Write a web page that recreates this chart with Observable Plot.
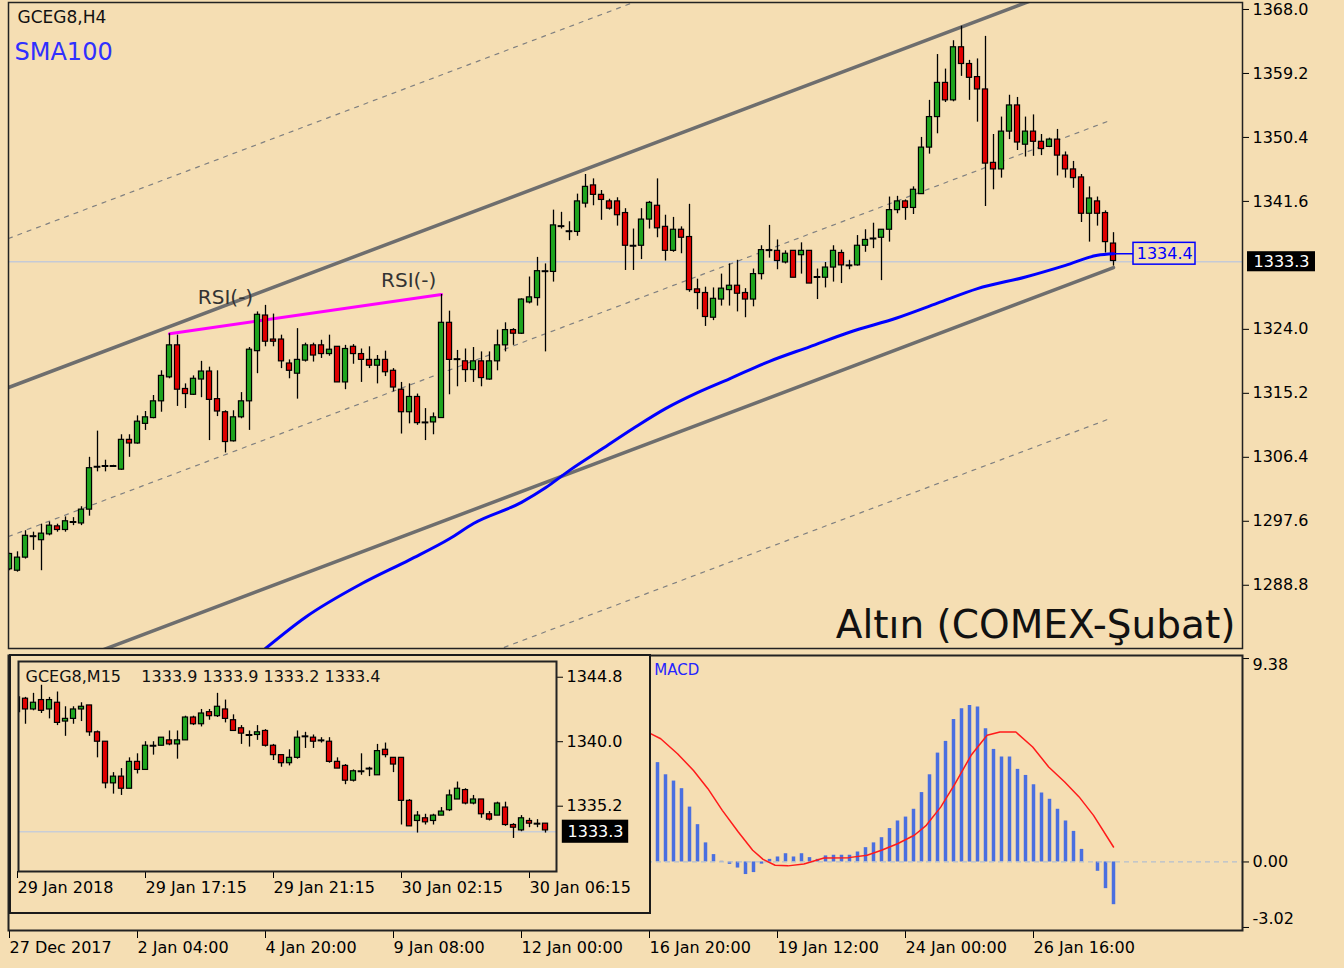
<!DOCTYPE html>
<html><head><meta charset="utf-8">
<script src="https://cdn.jsdelivr.net/npm/d3@7"></script>
<script src="https://cdn.jsdelivr.net/npm/@observablehq/plot@0.6"></script>
<style>
html,body{margin:0;padding:0;background:#f5deb3;}
#wrap{position:relative;width:1344px;height:968px;background:#f5deb3;overflow:hidden;}
#inset{position:absolute;left:9px;top:654px;width:638px;height:256px;border:2px solid #1b1b1b;background:#f5deb3;z-index:5;}
svg{display:block;}
</style></head>
<body><div id="wrap"><div id="inset"></div></div>
<script>
// ---------- H4 candles (GCEG8,H4) ----------
const h4Open = [1291.0,1290.8,1292.6,1295.6,1295.0,1295.8,1296.9,1296.4,1297.5,1297.3,
1299.2,1305.1,1305.2,1305.2,1304.7,1308.8,1308.3,1311.0,1311.8,1314.1,
1317.4,1321.8,1315.8,1315.0,1317.1,1318.2,1314.4,1312.6,1308.6,1311.9,
1314.1,1321.0,1325.9,1322.6,1322.6,1319.3,1317.9,1319.7,1321.8,1321.8,
1320.6,1321.6,1316.7,1321.6,1320.6,1319.8,1319.0,1319.8,1318.3,1315.7,
1312.6,1314.7,1311.2,1311.2,1311.8,1324.9,1319.9,1319.6,1318.4,1319.6,
1317.1,1319.6,1321.8,1323.9,1323.4,1327.7,1328.3,1332.0,1331.9,1338.2,
1337.5,1337.4,1341.3,1343.8,1342.5,1341.6,1341.6,1340.0,1335.5,1335.5,
1339.1,1341.0,1338.1,1334.8,1337.7,1336.7,1329.5,1329.0,1325.6,1328.1,
1329.4,1330.0,1329.0,1328.1,1331.6,1334.9,1334.8,1333.2,1334.8,1334.2,
1334.8,1331.2,1331.1,1332.5,1334.5,1332.8,1332.8,1335.5,1336.5,1336.6,
1337.7,1340.4,1341.6,1340.7,1342.6,1349.0,1353.2,1357.9,1355.5,1362.8,
1360.5,1358.7,1357.0,1346.9,1346.0,1351.2,1354.8,1349.4,1351.2,1349.8,
1349.1,1350.1,1347.9,1346.0,1344.9,1339.9,1341.6,1340.0,1335.8];
const h4High = [1293.2,1293.4,1296.3,1296.1,1297.2,1297.5,1297.2,1298.2,1298.1,1299.6,
1306.4,1310.0,1306.0,1305.3,1309.5,1309.5,1312.1,1312.7,1314.9,1318.3,
1323.4,1323.2,1316.5,1317.6,1319.6,1318.8,1318.3,1312.8,1312.8,1315.3,
1321.5,1326.4,1327.3,1326.1,1323.2,1319.8,1324.1,1322.1,1322.1,1322.5,
1323.2,1321.6,1321.8,1321.9,1321.3,1321.6,1320.4,1321.0,1318.6,1316.7,
1316.5,1315.1,1313.1,1312.5,1328.8,1326.5,1321.1,1321.3,1321.5,1320.9,
1320.9,1323.9,1324.9,1324.1,1328.2,1331.2,1333.9,1333.0,1340.4,1340.1,
1338.8,1342.6,1345.3,1344.7,1343.1,1341.9,1342.1,1340.6,1337.8,1340.6,
1341.6,1344.7,1339.7,1339.4,1338.1,1341.2,1330.9,1329.8,1329.7,1331.6,
1333.0,1333.5,1329.6,1332.3,1335.5,1338.3,1336.3,1334.8,1334.8,1335.9,
1334.8,1332.3,1333.2,1335.5,1334.9,1333.5,1336.9,1337.7,1338.6,1337.7,
1342.2,1342.3,1341.8,1343.6,1350.4,1355.5,1361.8,1359.8,1363.7,1365.7,
1361.0,1361.2,1364.3,1350.8,1353.2,1356.2,1355.9,1353.2,1353.5,1350.8,
1350.3,1351.5,1348.4,1347.1,1345.3,1343.6,1342.2,1340.3,1337.3];
const h4Low = [1290.8,1290.6,1292.4,1293.6,1290.8,1295.6,1296.1,1296.1,1297.0,1297.0,
1298.3,1304.4,1304.4,1305.1,1304.6,1306.4,1308.2,1310.1,1311.7,1312.6,
1317.2,1313.4,1313.1,1314.9,1314.6,1308.7,1312.0,1307.0,1308.5,1311.7,
1310.1,1317.9,1321.6,1321.6,1318.6,1317.2,1314.4,1319.5,1319.5,1320.0,
1320.3,1316.7,1315.7,1319.2,1316.7,1318.6,1316.5,1317.5,1315.4,1309.6,
1311.0,1310.8,1308.7,1309.5,1311.8,1315.0,1316.1,1316.7,1316.7,1316.1,
1317.0,1318.3,1320.9,1321.8,1323.3,1327.5,1327.2,1320.9,1330.5,1337.8,
1336.2,1336.8,1340.7,1341.0,1339.0,1340.4,1338.2,1332.1,1332.1,1333.6,
1337.8,1336.6,1333.4,1334.6,1334.4,1329.1,1326.7,1324.4,1325.2,1327.2,
1327.2,1326.4,1325.6,1327.1,1330.8,1333.8,1332.2,1333.0,1331.1,1331.6,
1330.3,1328.1,1329.7,1330.5,1330.3,1332.2,1332.7,1334.6,1335.1,1330.7,
1336.0,1339.9,1339.0,1339.8,1342.6,1348.1,1350.9,1355.2,1355.3,1358.8,
1355.5,1352.5,1340.9,1343.2,1344.8,1350.1,1348.6,1347.7,1347.8,1347.9,
1349.0,1345.1,1344.8,1343.4,1338.7,1336.0,1338.2,1334.5,1332.7];
const h4Close = [1293.1,1292.6,1295.6,1295.5,1295.9,1297.0,1296.4,1297.6,1297.5,1299.2,
1304.9,1305.1,1305.2,1305.2,1308.8,1308.3,1311.3,1311.9,1314.1,1317.6,
1321.8,1315.7,1315.1,1317.2,1318.2,1314.3,1312.7,1308.5,1311.9,1314.1,
1321.2,1326.0,1322.3,1322.3,1319.6,1318.3,1319.8,1321.8,1320.4,1320.6,
1321.2,1316.7,1321.3,1320.6,1319.8,1319.0,1319.8,1318.1,1316.0,1312.6,
1314.7,1311.1,1311.2,1311.9,1324.9,1319.8,1319.9,1318.4,1319.6,1317.3,
1319.6,1321.8,1323.9,1323.4,1328.1,1328.4,1332.0,1332.0,1338.3,1338.2,
1337.5,1341.6,1343.6,1342.5,1341.8,1340.6,1339.7,1335.5,1335.5,1339.1,
1341.4,1337.9,1334.8,1337.7,1336.6,1329.4,1329.0,1325.7,1328.2,1329.6,
1330.0,1328.9,1328.1,1331.6,1334.9,1334.9,1333.4,1334.4,1331.1,1334.8,
1330.3,1331.2,1332.5,1334.8,1332.8,1332.8,1335.5,1336.3,1336.5,1337.7,
1340.4,1341.6,1340.7,1343.2,1349.0,1353.2,1357.9,1355.5,1362.8,1360.5,
1358.6,1357.0,1346.8,1346.0,1351.2,1354.8,1349.7,1351.2,1349.8,1348.8,
1350.1,1347.9,1346.0,1344.8,1339.9,1342.0,1339.9,1336.0,1333.4];

// SMA100 read at sampled candles
const smaIdx = [32,37,44,50,55,58,64,67,70,74,78,82,86,90,95,100,105,111,116,121,127,132,136,138];
const smaVal = [1280.1,1284.4,1289.0,1292.3,1295.2,1297.3,1300.2,1302.2,1304.6,1307.5,1310.4,1313.1,1315.3,1317.2,1319.6,1321.6,1323.6,1325.6,1327.6,1329.6,1331.2,1332.8,1334.2,1334.4];

// Regression channel (candle index endpoints, prices)
const chanIdx = [-0.125, 138];
const chanLower = [1275.0, 1332.5];
const chanUpper = [1316.0, 1373.5];
const dashIdx = [-0.125, 137.5];
const dashTop = [1336.5, 1393.7];
const dashMid = [1295.5, 1352.7];
const dashBottom = [1254.5, 1311.7];

// RSI divergence line (candle index, price) and its labels
const rsiIdx = [20, 54];
const rsiVal = [1323.4, 1328.8];
const rsiLabelIdx = [27, 49.9];
const rsiLabelVal = [1328.4, 1330.7];

const lastPrice = 1333.3;
const priceTicks = [1368.0,1359.2,1350.4,1341.6,1324.0,1315.2,1306.4,1297.6,1288.8];

// Date axis
const dateTickIdx = [0,16,32,48,64,80,96,112,128];
const dateLabels = ["27 Dec 2017","2 Jan 04:00","4 Jan 20:00","9 Jan 08:00","12 Jan 00:00","16 Jan 20:00","19 Jan 12:00","24 Jan 00:00","26 Jan 16:00"];

// ---------- MACD ----------
const macdFirstIdx = 81;
const macdHist = [4.58,4.02,3.73,3.38,2.53,1.72,0.88,0.34,0.03,-0.11,
-0.28,-0.58,-0.49,-0.10,0.12,0.23,0.38,0.23,0.38,0.20,
0.12,0.28,0.31,0.31,0.31,0.46,0.66,0.88,1.12,1.54,
1.89,2.07,2.43,3.20,4.02,5.02,5.56,6.57,7.07,7.22,
7.14,6.14,5.19,4.84,4.84,4.27,3.99,3.56,3.18,2.89,
2.43,1.89,1.41,0.58,0.00,-0.43,-1.23,-1.97];
const sigIdx = [80.2,81.4,83.5,85.5,87.3,89.1,91.1,92.9,94.2,95.7,97.3,99.3,101.8,104.9,107.2,109.0,111.0,113.1,114.6,116.4,118.2,120.2,122.2,123.8,125.8,127.9,129.9,131.9,133.7,135.5,138.0];
const sigVal = [5.91,5.68,4.99,4.22,3.38,2.38,1.38,0.54,0.12,-0.15,-0.18,-0.09,0.18,0.20,0.31,0.54,0.84,1.23,1.69,2.53,3.61,4.92,5.84,5.99,5.99,5.30,4.38,3.69,3.00,2.15,0.69];
const macdTop = 9.38, macdZero = 0, macdBottom = -3.02;

// ---------- M15 inset (GCEG8,M15) ----------
const m15Open = [1343.3,1343.2,1342.4,1343.1,1342.4,1342.9,1341.5,1341.7,1342.4,1342.7,
1340.7,1340.0,1336.9,1337.4,1336.5,1338.5,1337.9,1339.7,1339.7,1340.1,
1339.8,1340.1,1341.8,1341.3,1342.2,1341.9,1342.4,1341.6,1341.0,1340.5,
1340.5,1340.8,1339.7,1339.0,1338.4,1338.8,1340.4,1340.3,1340.1,1340.0,
1338.5,1338.2,1337.1,1337.8,1338.0,1337.5,1339.4,1338.8,1338.8,1335.6,
1334.1,1334.3,1334.1,1334.5,1334.9,1335.7,1336.4,1335.4,1335.7,1334.6,
1334.5,1335.1,1333.8,1333.4,1334.1,1333.9,1333.9];
const m15High = [1343.3,1343.3,1343.6,1344.2,1343.3,1343.7,1342.6,1342.6,1342.9,1342.7,
1340.8,1340.0,1337.7,1338.0,1338.8,1339.1,1340.0,1340.0,1340.3,1340.8,
1340.8,1341.9,1341.9,1342.4,1342.4,1343.6,1343.1,1342.0,1341.2,1340.8,
1341.2,1340.9,1339.8,1339.0,1339.4,1340.8,1340.7,1340.5,1340.3,1340.3,
1338.8,1338.3,1337.9,1339.1,1338.1,1339.8,1339.9,1338.8,1338.8,1335.7,
1334.8,1334.6,1334.6,1335.1,1336.4,1337.0,1336.5,1336.0,1335.7,1334.8,
1335.5,1335.5,1333.9,1334.5,1334.3,1334.2,1333.9];
const m15Low = [1342.1,1341.3,1342.3,1342.1,1341.7,1341.2,1340.4,1341.3,1341.5,1340.4,
1338.8,1336.5,1336.1,1336.0,1336.5,1337.6,1337.9,1339.0,1339.7,1339.7,
1338.7,1340.1,1341.2,1341.1,1341.6,1341.8,1341.4,1340.8,1339.8,1339.6,
1340.1,1339.6,1338.6,1338.1,1338.2,1338.7,1339.5,1339.5,1339.9,1338.4,
1338.0,1336.8,1337.0,1337.5,1337.4,1337.5,1338.8,1337.7,1333.8,1333.7,
1333.2,1333.8,1333.8,1334.5,1334.8,1335.7,1335.3,1335.3,1334.3,1334.1,
1334.5,1333.7,1332.8,1333.3,1333.6,1333.6,1333.2];
const m15Close = [1342.2,1342.4,1342.9,1342.3,1343.1,1341.4,1341.7,1342.4,1342.6,1340.7,
1340.0,1336.9,1337.4,1336.5,1338.5,1337.9,1339.7,1339.7,1340.3,1339.8,
1340.1,1341.8,1341.3,1342.1,1341.9,1342.6,1341.7,1340.8,1340.6,1340.5,
1340.7,1339.7,1339.0,1338.4,1338.8,1340.3,1340.4,1340.0,1340.1,1338.5,
1338.0,1337.1,1337.8,1337.8,1338.0,1339.3,1339.0,1338.3,1335.6,1333.7,
1334.5,1334.0,1334.5,1334.8,1336.0,1336.5,1335.4,1335.7,1334.6,1334.2,
1335.4,1333.8,1333.6,1334.3,1333.9,1333.9,1333.4];
const m15Ticks = [1344.8, 1340.0, 1335.2];
const m15DateIdx = [0,16,32,48,64];
const m15DateLabels = ["29 Jan 2018","29 Jan 17:15","29 Jan 21:15","30 Jan 02:15","30 Jan 06:15"];
const m15Header = ["GCEG8,M15", "1333.9", "1333.9", "1333.2", "1333.4"];

// ---------- rendering ----------
const BG = "#f5deb3", GREEN = "#1fa51f", RED = "#e00000", BLUE = "#0000ff";
const FONT = "DejaVu Sans, Verdana, sans-serif";
const baseStyle = {background: "transparent", fontFamily: FONT, fontSize: "16px", color: "#000", overflow: "visible"};

function toCandles(O, H, L, C) {
  return O.map((o, i) => ({i, o, h: H[i], l: L[i], c: C[i]}));
}
function candleMarks(data, half, tol) {
  const up = data.filter(d => d.c - d.o >= tol);
  const dn = data.filter(d => d.o - d.c >= tol);
  const dj = data.filter(d => Math.abs(d.o - d.c) < tol);
  const box = {x1: d => d.i - half, x2: d => d.i + half, y1: "o", y2: "c", stroke: "#000", strokeWidth: 1.2, clip: true};
  return [
    Plot.ruleX(data, {x: "i", y1: "l", y2: "h", stroke: "#000", strokeWidth: 1.3, clip: true}),
    Plot.rect(up, {...box, fill: GREEN}),
    Plot.rect(dn, {...box, fill: RED}),
    Plot.ruleY(dj, {x1: d => d.i - half - 0.1, x2: d => d.i + half + 0.1, y: d => (d.o + d.c) / 2, stroke: "#000", strokeWidth: 2, clip: true})
  ];
}
const pts = (xs, ys) => xs.map((x, k) => ({x, y: ys[k]}));

const wrap = document.getElementById("wrap");
function place(el, left, top, parent) {
  el.style.position = "absolute"; el.style.left = left + "px"; el.style.top = top + "px";
  (parent || wrap).appendChild(el);
}

// Main chart
const h4 = toCandles(h4Open, h4High, h4Low, h4Close);
const smaLast = smaVal[smaVal.length - 1];

const main = Plot.plot({
  width: 1344, height: 651, marginLeft: 8, marginRight: 102, marginTop: 2, marginBottom: 3,
  x: {domain: [-0.125, 154.125], axis: null},
  y: {domain: [1280.1, 1368.96], axis: null},
  style: baseStyle,
  marks: [
    Plot.ruleY([lastPrice], {stroke: "#c5cad6", strokeWidth: 1.5}),
    Plot.line(pts(dashIdx, dashTop), {x: "x", y: "y", stroke: "#808080", strokeWidth: 1.2, strokeDasharray: "4,6", clip: true}),
    Plot.line(pts(dashIdx, dashMid), {x: "x", y: "y", stroke: "#808080", strokeWidth: 1.2, strokeDasharray: "4,6", clip: true}),
    Plot.line(pts(dashIdx, dashBottom), {x: "x", y: "y", stroke: "#808080", strokeWidth: 1.2, strokeDasharray: "4,6", clip: true}),
    Plot.line(pts(chanIdx, chanUpper), {x: "x", y: "y", stroke: "#6e6e6e", strokeWidth: 3.5, clip: true}),
    Plot.line(pts(chanIdx, chanLower), {x: "x", y: "y", stroke: "#6e6e6e", strokeWidth: 3.5, clip: true}),
    Plot.line(pts(rsiIdx, rsiVal), {x: "x", y: "y", stroke: "#ff00ff", strokeWidth: 3}),
    ...candleMarks(h4, 0.32, 0.15),
    Plot.line(pts(smaIdx, smaVal), {x: "x", y: "y", stroke: BLUE, strokeWidth: 3, curve: "monotone-x", clip: true}),
    Plot.ruleY([smaLast], {x1: () => 138, x2: () => 140.5, stroke: BLUE, strokeWidth: 1.5}),
    Plot.rect([smaLast], {x1: () => 140.5, x2: () => 148.25, y1: d => d - 1.5, y2: d => d + 1.5, fill: BG, stroke: BLUE, strokeWidth: 1.5}),
    Plot.text([smaLast], {x: () => 144.4, y: d => d, text: d => d.toFixed(1), fill: BLUE, fontSize: 16}),
    Plot.text(pts(rsiLabelIdx, rsiLabelVal), {x: "x", y: "y", text: () => "RSI(-)", fontSize: 20, fill: "#333"}),
    Plot.axisY({ticks: priceTicks, anchor: "right", tickSize: 6, tickPadding: 4, tickFormat: d => d.toFixed(1), fontSize: 16, label: null}),
    Plot.rect([lastPrice], {x1: () => 154.75, x2: () => 163.25, y1: d => d - 1.38, y2: d => d + 1.38, fill: "#000"}),
    Plot.text([lastPrice], {x: () => 159, y: d => d, text: d => d.toFixed(1), fill: "#fff", fontSize: 16}),
    Plot.text(["GCEG8,H4"], {frameAnchor: "top-left", dx: 9, dy: 15, textAnchor: "start", lineAnchor: "middle", fontSize: 17, fill: "#111"}),
    Plot.text(["SMA100"], {frameAnchor: "top-left", dx: 6, dy: 50, textAnchor: "start", lineAnchor: "middle", fontSize: 24, fill: "#3030ff"}),
    Plot.text(["Altın (COMEX-Şubat)"], {frameAnchor: "bottom-right", dx: -7, dy: -11, textAnchor: "end", lineAnchor: "bottom", fontSize: 39, fill: "#111"}),
    Plot.frame({stroke: "#222", strokeWidth: 1.5})
  ]
});
place(main, 0, 0);

// MACD panel
const hist = macdHist.map((v, k) => ({i: macdFirstIdx + k, v}));
const macdLabel = (v, dy) => Plot.text([v], {y: d => d, frameAnchor: "right", dx: 10, dy, textAnchor: "start", text: d => d.toFixed(2), fontSize: 16});
const macd = Plot.plot({
  width: 1344, height: 318, marginLeft: 8, marginRight: 102, marginTop: 5, marginBottom: 38,
  x: {domain: [-0.125, 154.125], axis: null},
  y: {domain: [-3.16, 9.52], axis: null},
  style: baseStyle,
  marks: [
    Plot.ruleX(hist, {x: "i", y1: () => 0, y2: "v", stroke: "#4a6fe0", strokeWidth: 3.5}),
    Plot.ruleY([0], {stroke: "#b4bfd0", strokeWidth: 1.3, strokeDasharray: "5,4"}),
    Plot.line(pts(sigIdx, sigVal), {x: "x", y: "y", stroke: "#ff1a1a", strokeWidth: 1.5}),
    Plot.text(["MACD"], {x: () => 80.6, frameAnchor: "top", dy: 15, textAnchor: "start", lineAnchor: "middle", fontSize: 15, fill: "#2525ff"}),
    Plot.axisY({ticks: [macdTop, macdZero, macdBottom], anchor: "right", tickSize: 6, tickFormat: () => "", label: null}),
    macdLabel(macdTop, 6),
    macdLabel(macdZero, 0),
    macdLabel(macdBottom, -9),
    Plot.axisX({ticks: dateTickIdx, anchor: "bottom", tickSize: 8, tickPadding: 3, textAnchor: "start", tickFormat: d => dateLabels[dateTickIdx.indexOf(d)], fontSize: 16, label: null}),
    Plot.frame({stroke: "#222", strokeWidth: 2})
  ]
});
place(macd, 0, 650);

// M15 inset
const m15 = toCandles(m15Open, m15High, m15Low, m15Close);
const inset = Plot.plot({
  width: 638, height: 256, marginLeft: 7, marginRight: 93, marginTop: 5, marginBottom: 41,
  x: {domain: [0.125, 67.375], axis: null},
  y: {domain: [1330.34, 1345.97], axis: null},
  style: {...baseStyle, background: BG},
  marks: [
    Plot.ruleY([lastPrice], {stroke: "#c9cdd6", strokeWidth: 1.5}),
    ...candleMarks(m15, 0.32, 0.08),
    Plot.text([m15Header[0] + "\u00a0\u00a0\u00a0\u00a0" + m15Header.slice(1).join(" ")], {frameAnchor: "top-left", dx: 7, dy: 15, textAnchor: "start", lineAnchor: "middle", fontSize: 16, fill: "#111"}),
    Plot.axisY({ticks: m15Ticks, anchor: "right", tickSize: 6, tickPadding: 4, tickFormat: d => d.toFixed(1), fontSize: 16, label: null}),
    Plot.axisX({ticks: m15DateIdx, anchor: "bottom", tickSize: 7, tickPadding: 3, textAnchor: "start", tickFormat: d => m15DateLabels[m15DateIdx.indexOf(d)], fontSize: 16, label: null}),
    Plot.rect([lastPrice], {x1: () => 68.1, x2: () => 76.4, y1: d => d - 0.86, y2: d => d + 0.86, fill: "#000"}),
    Plot.text([lastPrice], {x: () => 72.25, y: d => d, text: d => d.toFixed(1), fill: "#fff", fontSize: 16}),
    Plot.frame({stroke: "#222", strokeWidth: 2})
  ]
});
place(inset, 0, 0, document.getElementById("inset"));
</script>
</body></html>
